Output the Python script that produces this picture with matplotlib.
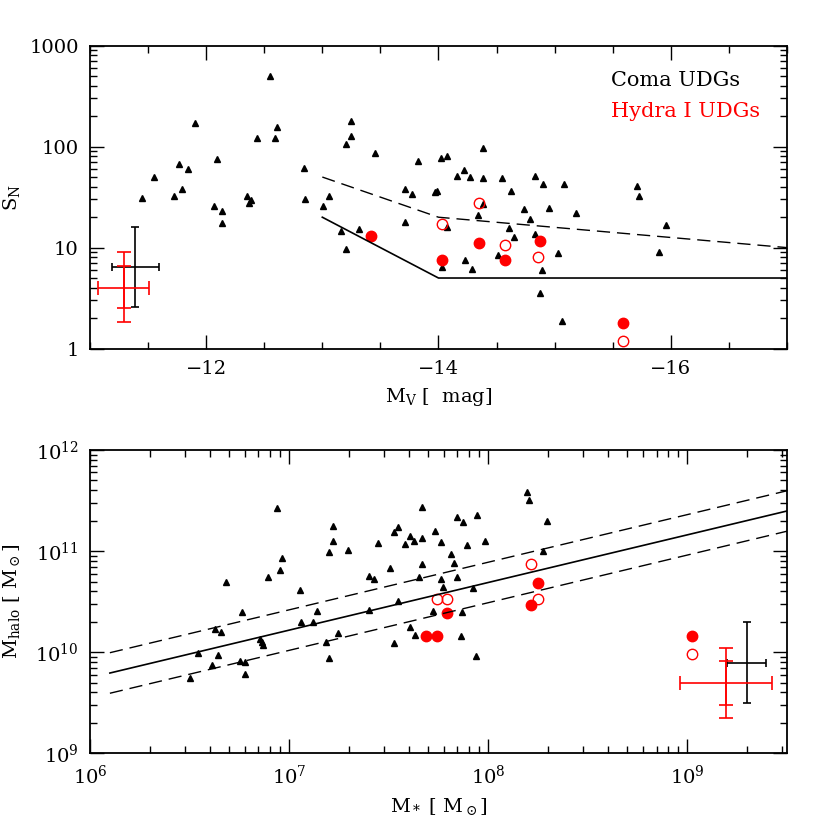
import matplotlib
matplotlib.use('Agg')
import matplotlib.pyplot as plt
from matplotlib.ticker import LogLocator, MultipleLocator, FixedLocator, NullFormatter
import numpy as np

plt.rcParams['font.family'] = ['DejaVu Serif']
plt.rcParams['mathtext.fontset'] = 'dejavuserif'
plt.rcParams['font.size'] = 14

# --- top panel: S_N vs M_V ---
coma_mv = [-11.45, -11.55, -11.72, -11.77, -11.79, -11.84, -11.90, -12.07, -12.09, -12.14,
           -12.14, -12.35, -12.39, -12.37, -12.44, -12.55, -12.59, -12.61, -12.84, -12.85,
           -13.01, -13.06, -13.16, -13.20, -13.20, -13.25, -13.25, -13.32, -13.45, -13.71,
           -13.71, -13.77, -13.82, -13.97, -13.99, -14.02, -14.07, -14.16, -14.07, -14.03,
           -14.22, -14.27, -14.38, -14.38, -14.38, -14.34, -14.23, -14.29, -14.55, -14.62,
           -14.61, -14.65, -14.51, -14.74, -14.79, -14.83, -14.90, -14.83, -14.95, -14.89,
           -14.87, -15.03, -15.08, -15.18, -15.06, -15.71, -15.73, -15.96, -15.90]
coma_sn = [30.7, 49.7, 32.4, 67.6, 37.9, 60, 173, 25.8, 74.6, 23.2,
           17.7, 32.4, 29.6, 27.6, 121, 505, 121, 155, 61.9, 30,
           26, 32.1, 14.6, 9.7, 105, 127, 180, 15.2, 86, 37.9,
           18, 33.8, 71.8, 35.6, 36.5, 78, 81, 51.6, 16, 6.4,
           58.2, 50.5, 97.7, 48.9, 27.2, 21.2, 7.6, 6.1, 48.5, 36.2,
           15.7, 12.8, 8.5, 24.1, 19.1, 51.2, 43, 13.6, 24.8, 5.95,
           3.56, 8.8, 43, 21.9, 1.89, 40.5, 32.8, 16.7, 9.1]

hydra_mv_fill = [-13.42, -14.03, -14.35, -14.57, -14.87, -15.59]
hydra_sn_fill = [12.9, 7.5, 11.1, 7.6, 11.5, 1.8]
hydra_mv_open = [-14.03, -14.35, -14.57, -14.86, -15.59]
hydra_sn_open = [17.3, 27.4, 10.6, 8.1, 1.2]

solid_mv = [-13, -14, -17]
solid_sn = [20, 5, 5]
dash_mv = [-13, -14, -17]
dash_sn = [50, 20, 10]

# typical error bars (top)
err1_mv, err1_sn = -11.39, 6.4
err1_dmv, err1_sn_lo, err1_sn_hi = 0.2, 2.6, 16
err2_mv, err2_sn = -11.29, 4.0
err2_dmv = 0.22
err2_sn_lo, err2_sn_hi = 1.83, 9.1
err2_sn_lo_in, err2_sn_hi_in = 2.54, 6.6

# --- bottom panel: M_halo vs M_* (log10 values) ---
coma_logms = [6.503, 6.543, 6.612, 6.629, 6.641, 6.659, 6.682, 6.751, 6.761, 6.779,
              6.779, 6.856, 6.866, 6.870, 6.895, 6.938, 6.955, 6.963, 7.054, 7.059,
              7.121, 7.142, 7.184, 7.198, 7.198, 7.218, 7.218, 7.244, 7.298, 7.401,
              7.401, 7.427, 7.447, 7.505, 7.525, 7.545, 7.529, 7.545, 7.582, 7.609,
              7.626, 7.609, 7.634, 7.654, 7.667, 7.667, 7.667, 7.721, 7.733, 7.761,
              7.765, 7.775, 7.815, 7.830, 7.845, 7.845, 7.873, 7.862, 7.868, 7.893,
              7.923, 7.937, 7.945, 7.985, 8.196, 8.204, 8.295, 8.273]
coma_logmh = [9.742, 9.995, 9.873, 10.226, 9.975, 10.200, 10.694, 9.916, 10.395, 9.903,
              9.781, 10.130, 10.104, 10.074, 10.747, 11.423, 10.810, 10.929, 10.615, 10.299,
              10.299, 10.408, 10.104, 9.940, 10.994, 11.100, 11.251, 10.187, 11.008, 10.417,
              10.751, 10.724, 11.080, 10.836, 11.192, 11.235, 10.094, 10.506, 11.070, 11.146,
              11.103, 10.249, 10.173, 10.747, 10.869, 11.133, 11.439, 10.408, 11.199, 10.724,
              11.093, 10.648, 10.968, 10.879, 11.334, 10.747, 11.288, 10.163, 10.398, 11.060,
              10.632, 9.965, 11.354, 11.097, 11.585, 11.502, 11.295, 10.998]

hydra_logms_fill = [7.795, 7.688, 7.741, 8.248, 8.214, 9.021]
hydra_logmh_fill = [10.388, 10.157, 10.157, 10.687, 10.470, 10.157]
hydra_logms_open = [7.741, 7.795, 8.214, 8.248, 9.021]
hydra_logmh_open = [10.526, 10.526, 10.869, 10.529, 9.979]

rel_logms = [6.1, 9.5]
rel_logmh = [9.794, 11.397]
rel_up_logmh = [9.995, 11.597]
rel_lo_logmh = [9.594, 11.197]

# typical error bars (bottom), log10
eb1_x, eb1_y, eb1_dx, eb1_dy = 9.297, 9.896, 0.10, 0.40
eb2_x, eb2_y, eb2_dx = 9.195, 9.695, 0.23
eb2_dy_out, eb2_dy_in = 0.35, 0.215

fig = plt.figure(figsize=(8.3, 8.3), dpi=100)
ax1 = fig.add_axes([0.1084, 0.580, 0.8398, 0.365])
ax2 = fig.add_axes([0.1084, 0.0924, 0.8398, 0.3654])

for ax in (ax1, ax2):
    ax.tick_params(which='both', direction='in', top=True, right=True, width=1.0)
    ax.tick_params(which='major', length=10, pad=8)
    ax.tick_params(which='minor', length=5)
    for s in ax.spines.values():
        s.set_linewidth(1.3)

# top
ax1.plot(coma_mv, coma_sn, '^', color='black', ms=4.5)
ax1.plot(hydra_mv_fill, hydra_sn_fill, 'o', color='red', ms=7.5, mec='red')
ax1.plot(hydra_mv_open, hydra_sn_open, 'o', mfc='none', mec='red', ms=7.5, mew=1.0)
ax1.plot(solid_mv, solid_sn, '-', color='black', lw=1.2)
ax1.plot(dash_mv, dash_sn, '--', color='black', lw=1.0, dashes=(9.5, 5))

ax1.errorbar([err1_mv], [err1_sn], xerr=[[err1_dmv], [err1_dmv]],
             yerr=[[err1_sn - err1_sn_lo], [err1_sn_hi - err1_sn]],
             fmt='none', ecolor='black', elinewidth=1.2, capsize=3, capthick=1.2)
ax1.errorbar([err2_mv], [err2_sn], xerr=[[err2_dmv], [err2_dmv]],
             yerr=[[err2_sn - err2_sn_lo], [err2_sn_hi - err2_sn]],
             fmt='none', ecolor='red', elinewidth=1.2, capsize=5, capthick=1.2)
ax1.errorbar([err2_mv], [err2_sn],
             yerr=[[err2_sn - err2_sn_lo_in], [err2_sn_hi_in - err2_sn]],
             fmt='none', ecolor='red', elinewidth=1.2, capsize=5, capthick=1.2)

ax1.set_yscale('log')
ax1.set_xlim(-11, -17)
ax1.set_ylim(1, 1000)
ax1.xaxis.set_major_locator(FixedLocator([-12, -14, -16]))
ax1.xaxis.set_minor_locator(MultipleLocator(0.5))
ax1.set_xticklabels(['\u221212', '\u221214', '\u221216'])
ax1.yaxis.set_major_locator(FixedLocator([1, 10, 100, 1000]))
ax1.set_yticklabels(['1', '10', '100', '1000'])
ax1.yaxis.set_minor_locator(LogLocator(base=10, subs=np.arange(2, 10)))
ax1.yaxis.set_minor_formatter(NullFormatter())
ax1.set_xlabel(r'M$_\mathregular{V}$ [  mag]', labelpad=6)
ax1.set_ylabel(r'S$_\mathregular{N}$')
ax1.yaxis.set_label_coords(-0.097, 0.5)

ax1.text(0.748, 0.885, 'Coma UDGs', transform=ax1.transAxes, color='black',
         fontsize=15, ha='left', va='center')
ax1.text(0.748, 0.782, 'Hydra I UDGs', transform=ax1.transAxes, color='red',
         fontsize=15, ha='left', va='center')

# bottom
ax2.plot(10 ** np.array(coma_logms), 10 ** np.array(coma_logmh), '^', color='black', ms=4.5)
ax2.plot(10 ** np.array(hydra_logms_fill), 10 ** np.array(hydra_logmh_fill), 'o',
         color='red', ms=7.5)
ax2.plot(10 ** np.array(hydra_logms_open), 10 ** np.array(hydra_logmh_open), 'o',
         mfc='none', mec='red', ms=7.5, mew=1.0)
rx = 10 ** np.array(rel_logms)
ax2.plot(rx, 10 ** np.array(rel_logmh), '-', color='black', lw=1.2)
ax2.plot(rx, 10 ** np.array(rel_up_logmh), '--', color='black', lw=1.0, dashes=(9.5, 5))
ax2.plot(rx, 10 ** np.array(rel_lo_logmh), '--', color='black', lw=1.0, dashes=(9.5, 5))

def logerr(c, d):
    return [[10 ** c - 10 ** (c - d)], [10 ** (c + d) - 10 ** c]]

ax2.errorbar([10 ** eb1_x], [10 ** eb1_y], xerr=logerr(eb1_x, eb1_dx), yerr=logerr(eb1_y, eb1_dy),
             fmt='none', ecolor='black', elinewidth=1.2, capsize=3, capthick=1.2)
ax2.errorbar([10 ** eb2_x], [10 ** eb2_y], xerr=logerr(eb2_x, eb2_dx),
             yerr=logerr(eb2_y, eb2_dy_out),
             fmt='none', ecolor='red', elinewidth=1.2, capsize=5, capthick=1.2)
ax2.errorbar([10 ** eb2_x], [10 ** eb2_y], yerr=logerr(eb2_y, eb2_dy_in),
             fmt='none', ecolor='red', elinewidth=1.2, capsize=5, capthick=1.2)

ax2.set_xscale('log')
ax2.set_yscale('log')
ax2.set_xlim(1e6, 10 ** 9.5)
ax2.set_ylim(1e9, 1e12)
ax2.xaxis.set_minor_locator(LogLocator(base=10, subs=np.arange(2, 10)))
ax2.yaxis.set_minor_locator(LogLocator(base=10, subs=np.arange(2, 10)))
ax2.xaxis.set_minor_formatter(NullFormatter())
ax2.yaxis.set_minor_formatter(NullFormatter())
ax2.set_xlabel(r'M$_*$ [ M$_\odot$]', labelpad=6)
ax2.set_ylabel(r'M$_\mathregular{halo}$ [ M$_\odot$]')
ax2.yaxis.set_label_coords(-0.097, 0.5)

fig.savefig('out.png', dpi=100)
